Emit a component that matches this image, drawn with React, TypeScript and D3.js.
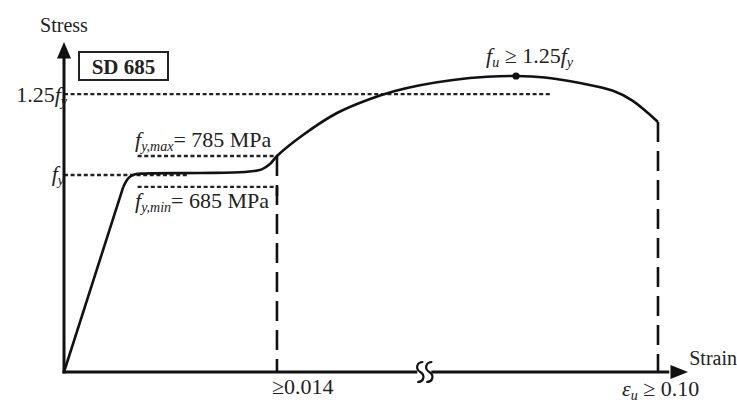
import React from "react";
import * as d3 from "d3";

// Schematic units: strain 0..100 (broken axis), stress 0..100
const elasticStrain = [0, 9.5];
const elasticStress = [0, 56.1];
const curveStrain = [9.5, 10.4, 11.4, 13.0, 21.8, 29.0, 31.7, 33.0, 34.13, 38.3, 43.75, 49.04, 53.04, 57.05, 62.34, 67.79, 72.44, 77.08, 82.69, 87.98, 91.03, 95.19];
const curveStress = [56.1, 58.9, 59.9, 60.15, 60.3, 60.6, 61.4, 63.0, 65.45, 71.82, 78.48, 82.73, 85.15, 86.9, 88.5, 89.45, 89.7, 89.24, 87.58, 85.2, 82.3, 75.76];

const fyLevel = 59.7;
const fyMaxLevel = 65.45;
const fyMinLevel = 56.1;
const fu125Level = 84.2;
const strainYieldEnd = 34.13; // >= 0.014
const strainUltimate = 95.19; // eu >= 0.10
const peakStrain = 72.44;
const peakStress = 89.7;
const breakStrain = 57.9;

const W = 737;
const H = 402;

const x = d3.scaleLinear().domain([0, 100]).range([64, 688]);
const y = d3.scaleLinear().domain([0, 100]).range([372, 42]);

const serif = "'Liberation Serif', 'DejaVu Serif', serif";

export default function App() {
  const toPts = (xs: number[], ys: number[]) => xs.map((s, i) => [s, ys[i]] as [number, number]);
  const lin = d3.line<[number, number]>().x((d) => x(d[0])).y((d) => y(d[1]));
  const smooth = d3
    .line<[number, number]>()
    .x((d) => x(d[0]))
    .y((d) => y(d[1]))
    .curve(d3.curveCatmullRom.alpha(0.5));

  const dot = { stroke: "#222", strokeWidth: 2.4, strokeDasharray: "4,2.6" };
  const dash = { stroke: "#111", strokeWidth: 2.6, strokeDasharray: "20,9" };
  const bx = x(breakStrain);
  const ay = y(0);

  const sPath = (cx: number) =>
    `M${cx + 3},${ay - 10} C${cx - 4},${ay - 10} ${cx - 5},${ay - 3} ${cx},${ay} C${cx + 5},${ay + 3} ${cx + 4},${ay + 10} ${cx - 3},${ay + 10}`;

  return (
    <svg width={W} height={H} style={{ position: "absolute", left: 0, top: 0, background: "#fff" }}>
      <rect x={0} y={0} width={W} height={H} fill="#fff" />
      {/* reference dotted lines */}
      <line x1={x(0)} x2={x(78.2)} y1={y(fu125Level)} y2={y(fu125Level)} {...dot} />
      <line x1={x(0)} x2={x(19.7)} y1={y(fyLevel)} y2={y(fyLevel)} {...dot} />
      <line x1={x(11.8)} x2={x(strainYieldEnd)} y1={y(fyMaxLevel)} y2={y(fyMaxLevel)} {...dot} />
      <line x1={x(11.8)} x2={x(strainYieldEnd)} y1={y(fyMinLevel)} y2={y(fyMinLevel)} {...dot} />
      <line x1={x(strainYieldEnd)} x2={x(strainYieldEnd)} y1={y(fyMinLevel)} y2={y(fyMinLevel) + 9} stroke="#111" strokeWidth={2.6} />
      {/* dashed verticals */}
      <line x1={x(strainYieldEnd)} x2={x(strainYieldEnd)} y1={y(65.45)} y2={y(0)} {...dash} />
      <line x1={x(strainUltimate)} x2={x(strainUltimate)} y1={y(75.76)} y2={y(0)} {...dash} />
      {/* axes */}
      <line x1={x(0)} x2={x(0)} y1={y(0) + 1.5} y2={y(96)} stroke="#111" strokeWidth={3} />
      <path d={`M${x(0)},${y(100)} L${x(0) - 7},${y(95)} L${x(0) + 7},${y(95)} Z`} fill="#111" />
      <line x1={x(0) - 1.5} x2={x(97)} y1={y(0)} y2={y(0)} stroke="#111" strokeWidth={3} />
      <path d={`M${x(100)},${y(0)} L${x(97.2)},${y(0) - 7} L${x(97.2)},${y(0) + 7} Z`} fill="#111" />
      {/* axis break */}
      <rect x={bx - 8} y={ay - 3} width={14} height={6} fill="#fff" />
      <path d={sPath(bx - 5)} fill="none" stroke="#111" strokeWidth={2.2} />
      <path d={sPath(bx + 4)} fill="none" stroke="#111" strokeWidth={2.2} />
      {/* curve */}
      <path d={lin(toPts(elasticStrain, elasticStress)) || ""} fill="none" stroke="#111" strokeWidth={2.6} />
      <path d={smooth(toPts(curveStrain, curveStress)) || ""} fill="none" stroke="#111" strokeWidth={2.6} />
      <circle cx={x(peakStrain)} cy={y(peakStress)} r={3.6} fill="#111" />
      {/* labels */}
      <g fontFamily={serif} fill="#222">
        <text x={64} y={32} fontSize={20} textAnchor="middle">Stress</text>
        <text x={737} y={365} fontSize={20} textAnchor="end">Strain</text>
        <rect x={79} y={52} width={89} height={28} fill="none" stroke="#222" strokeWidth={2} />
        <text x={123.5} y={74} fontSize={21} fontWeight="bold" textAnchor="middle">SD 685</text>
        <text x={67} y={102} fontSize={22} textAnchor="end">
          1.25<tspan fontStyle="italic">f</tspan>
          <tspan fontStyle="italic" fontSize={14} dy={4}>y</tspan>
        </text>
        <text x={64} y={181} fontSize={22} textAnchor="end">
          <tspan fontStyle="italic">f</tspan>
          <tspan fontStyle="italic" fontSize={14} dy={4}>y</tspan>
        </text>
        <text x={135} y={147} fontSize={22}>
          <tspan fontStyle="italic">f</tspan>
          <tspan fontStyle="italic" fontSize={14} dy={4}>y,max</tspan>
          <tspan dy={-4}>= 785 MPa</tspan>
        </text>
        <text x={135} y={208} fontSize={22}>
          <tspan fontStyle="italic">f</tspan>
          <tspan fontStyle="italic" fontSize={14} dy={4}>y,min</tspan>
          <tspan dy={-4}>= 685 MPa</tspan>
        </text>
        <text x={486} y={63} fontSize={22}>
          <tspan fontStyle="italic">f</tspan>
          <tspan fontStyle="italic" fontSize={14} dy={4}>u</tspan>
          <tspan dy={-4}> ≥ 1.25</tspan>
          <tspan fontStyle="italic">f</tspan>
          <tspan fontStyle="italic" fontSize={14} dy={4}>y</tspan>
        </text>
        <text x={272} y={394} fontSize={22}>≥0.014</text>
        <text x={622} y={396} fontSize={22}>
          <tspan fontStyle="italic">ε</tspan>
          <tspan fontStyle="italic" fontSize={14} dy={4}>u</tspan>
          <tspan dy={-4}> ≥ 0.10</tspan>
        </text>
      </g>
    </svg>
  );
}
